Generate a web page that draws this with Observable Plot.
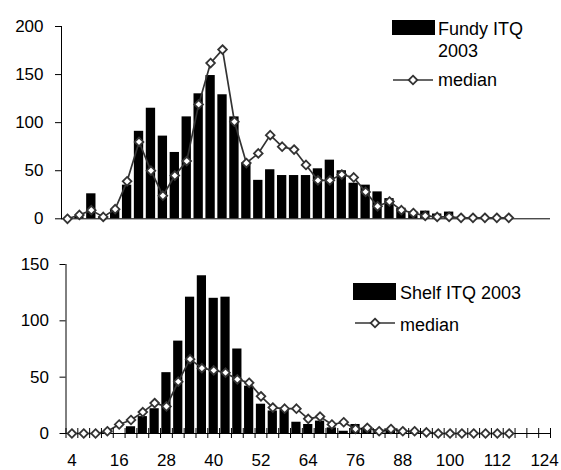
<!DOCTYPE html>
<html><head><meta charset="utf-8">
<script src="https://cdn.jsdelivr.net/npm/d3@7"></script>
<script src="https://cdn.jsdelivr.net/npm/@observablehq/plot@0.6"></script>
<style>
body{margin:0;background:#fff;}
#chart{width:561px;height:470px;}
#chart svg{display:block;}
</style></head><body><div id="chart"></div>
<script>
// Length classes (category axis) and labelled ticks
const lengthClasses = [4,7,10,13,16,19,22,25,28,31,34,37,40,43,46,49,52,55,58,61,64,67,70,73,76,79,82,85,88,91,94,97,100,103,106,109,112,115,118,121,124];
const tickLabels = [4,16,28,40,52,64,76,88,100,112,124];

// Fundy ITQ 2003
const fundyCounts = [0,2,26,2,9,35,91,115,86,69,106,130,149,129,106,58,40,51,45,45,45,52,61,50,37,35,28,21,11,7,8,5,7,0,0,0,0,0,0,0,0];
const fundyMedian = [0,4,9,2,10,39,80,50,24,45,60,119,162,176,101,58,68,87,75,72,56,40,40,46,43,28,13,18,9,6,3,2,2,1,1,1,1,1];
const fundyTicks = [0,50,100,150,200];

// Shelf ITQ 2003
const shelfCounts = [0,0,0,0,0,6,15,22,54,82,121,140,120,121,75,42,26,20,21,10,8,11,5,2,8,4,3,3,2,1,1,0,0,0,0,0,0,0,0,0,0];
const shelfMedian = [0,0,0,2,8,12,19,27,24,46,66,58,56,54,48,45,33,23,22,22,13,15,8,10,4,5,2,4,2,2,1,0,0,0,0,0,0,0];
const shelfTicks = [0,50,100,150];

const fundyLegend = ["Fundy ITQ", "2003"];
const shelfLegend = ["Shelf ITQ 2003"];
const medianLabel = "median";

const FONT = "Liberation Sans, Arial, Helvetica, sans-serif";
const LINE = "#333333";
const R = 3.9;

function panel(o) {
  const bars = lengthClasses.map((len, i) => ({len, count: o.counts[i]}));
  const med = o.median.map((m, i) => ({len: lengthClasses[i], m}));
  const bounds = lengthClasses.map(v => v - 1.5).concat([lengthClasses[lengthClasses.length - 1] + 1.5]);
  const marks = [
    Plot.rectY(bars, {x1: d => d.len - 1.5, x2: d => d.len + 1.5, y: "count", fill: "black", insetLeft: 1.3, insetRight: 1.3}),
    Plot.ruleY([0], {stroke: "black"}),
    Plot.frame({anchor: "left", stroke: "black"}),
    Plot.axisY({ticks: o.yTicks, tickSize: 6, tickPadding: o.yPad, tickFormat: d => String(d), label: null}),
    Plot.line(med, {x: "len", y: "m", stroke: LINE, strokeWidth: 1.7}),
    Plot.dot(med, {x: "len", y: "m", symbol: "diamond2", r: R, fill: "white", stroke: LINE, strokeWidth: 1.8})
  ];
  if (o.showX) {
    marks.push(Plot.ruleX(bounds, {y1: 0, y2: 0, insetTop: -5, insetBottom: -5, stroke: "black"}));
    marks.push(Plot.axisX({ticks: tickLabels, tickSize: 0, tickPadding: 20, tickFormat: d => String(d), label: null}));
  }
  const svg = Plot.plot({
    width: 561, height: o.height,
    marginLeft: o.marginLeft, marginRight: 11, marginTop: o.marginTop, marginBottom: o.marginBottom,
    style: {fontFamily: FONT, fontSize: "17px", color: "black", background: "white"},
    x: {type: "linear", domain: [2.5, 125.5], axis: null, label: null},
    y: {domain: o.yDomain, label: null},
    marks
  });
  // legend
  const g = d3.select(svg).append("g").attr("font-family", FONT).attr("font-size", 18)
    .attr("fill", "black").attr("text-anchor", "start");
  const L = o.legend;
  g.append("rect").attr("x", L.rx).attr("y", L.ry).attr("width", 43).attr("height", L.rh).attr("fill", "black");
  o.legendText.forEach((t, i) => {
    g.append("text").attr("x", L.tx).attr("y", L.tb + i * 22).attr("text-anchor", "start").text(t);
  });
  g.append("line").attr("x1", L.lx).attr("x2", L.lx + 40).attr("y1", L.ly).attr("y2", L.ly).attr("stroke", LINE).attr("stroke-width", 1.7);
  g.append("path").attr("d", d3.symbol(d3.symbolDiamond2, Math.PI * R * R)())
    .attr("transform", `translate(${L.lx + 20},${L.ly})`).attr("fill", "white").attr("stroke", LINE).attr("stroke-width", 1.8);
  g.append("text").attr("x", L.tx).attr("y", L.mb).attr("text-anchor", "start").text(medianLabel);
  return svg;
}

const root = document.getElementById("chart");
root.appendChild(panel({
  counts: fundyCounts, median: fundyMedian, yTicks: fundyTicks, yDomain: [0, 200],
  height: 235, marginLeft: 61, marginTop: 26, marginBottom: 16.7, yPad: 12, showX: false,
  legendText: fundyLegend,
  legend: {rx: 392, ry: 20, rh: 15, tx: 438, tb: 35, lx: 393, ly: 80, mb: 86}
}));
root.appendChild(panel({
  counts: shelfCounts, median: shelfMedian, yTicks: shelfTicks, yDomain: [0, 150],
  height: 235, marginLeft: 65.5, marginTop: 29, marginBottom: 37, yPad: 11, showX: true,
  legendText: shelfLegend,
  legend: {rx: 353, ry: 48, rh: 17, tx: 400, tb: 64, lx: 355, ly: 88, mb: 95.5}
}));
</script></body></html>
